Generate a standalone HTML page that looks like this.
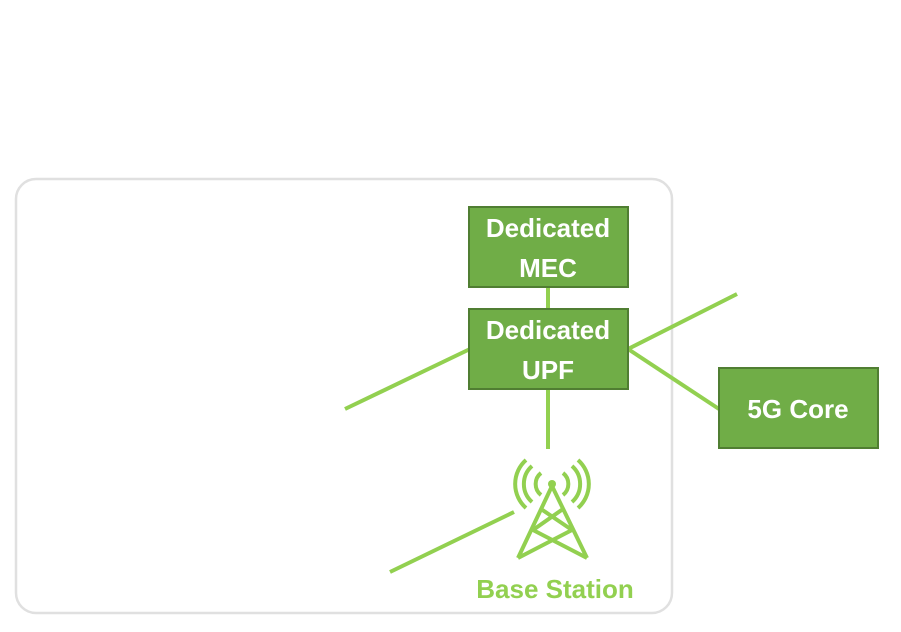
<!DOCTYPE html>
<html><head><style>
body{margin:0;width:901px;height:627px;background:#fff;overflow:hidden;font-family:"Liberation Sans",sans-serif}
</style></head><body>
<svg width="901" height="627" viewBox="0 0 901 627">
<rect x="16" y="179" width="656" height="434" rx="20" fill="none" stroke="#e0e0e0" stroke-width="2.5"/>
<g stroke="#92d050" stroke-width="4" fill="none">
<line x1="548" y1="288" x2="548" y2="308"/>
<line x1="548" y1="389" x2="548" y2="449"/>
<line x1="470" y1="349" x2="345" y2="409"/>
<line x1="628" y1="349" x2="737" y2="294"/>
<line x1="628" y1="349" x2="719" y2="409"/>
<line x1="390" y1="572" x2="514" y2="512"/>
<circle cx="552" cy="484" r="4" fill="#92d050" stroke="none"/>
<path d="M552 486 L518 558 M552 486 L587 558 M518 558 L572 530 M587 558 L533 530 M541 509 L572 530 M563 509 L533 530"/>
<path d="M541 473 A14 14 0 0 0 541 495 M563 473 A14 14 0 0 1 563 495" />
<path d="M532 466 A24 24 0 0 0 532 502 M572 466 A24 24 0 0 1 572 502" />
<path d="M526 460 A32 32 0 0 0 526 508 M578 460 A32 32 0 0 1 578 508" />
</g>
<g fill="#70ad47" stroke="#507e32" stroke-width="2">
<rect x="469" y="207" width="159" height="80"/>
<rect x="469" y="309" width="159" height="80"/>
<rect x="719" y="368" width="159" height="80"/>
</g>
<g fill="#fff" font-weight="bold" font-size="26" text-anchor="middle">
<text x="548" y="237">Dedicated</text>
<text x="548" y="277">MEC</text>
<text x="548" y="339">Dedicated</text>
<text x="548" y="379">UPF</text>
<text x="798" y="418">5G Core</text>
</g>
<text x="555" y="598" fill="#92d050" font-weight="bold" font-size="26" text-anchor="middle">Base Station</text>
</svg>
</body></html>
